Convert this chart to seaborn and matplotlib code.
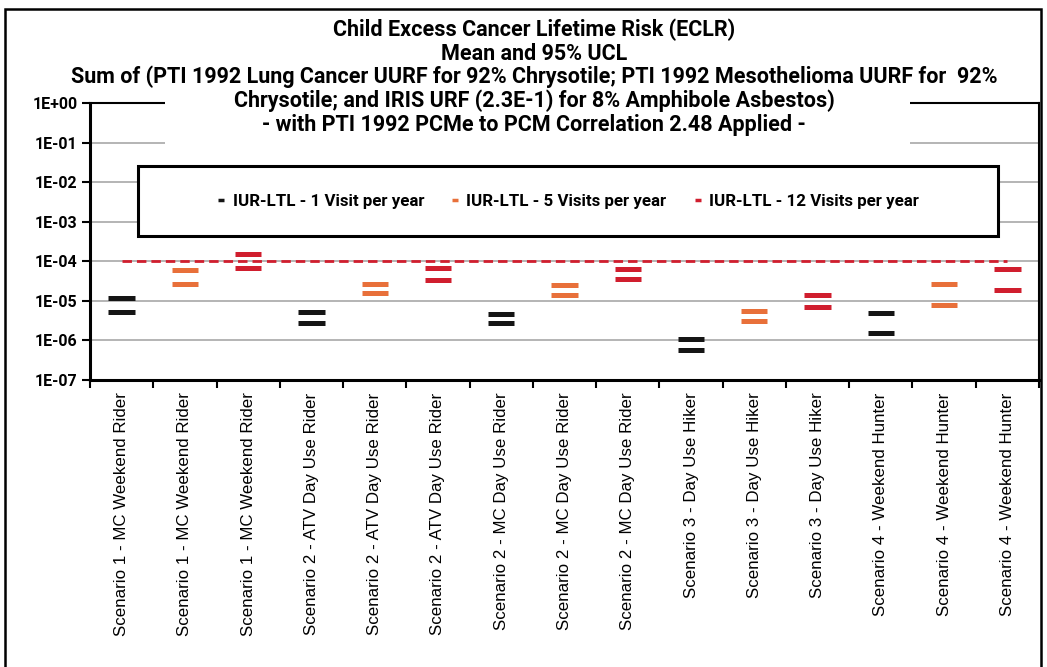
import matplotlib
matplotlib.use("Agg")
import matplotlib.pyplot as plt
from matplotlib.lines import Line2D
from matplotlib.patches import Rectangle
import numpy as np
import pandas as pd
import seaborn as sns

# ---------------- data ----------------
categories = [
    "Scenario 1 - MC Weekend Rider", "Scenario 1 - MC Weekend Rider", "Scenario 1 - MC Weekend Rider",
    "Scenario 2 - ATV Day Use Rider", "Scenario 2 - ATV Day Use Rider", "Scenario 2 - ATV Day Use Rider",
    "Scenario 2 - MC Day Use Rider", "Scenario 2 - MC Day Use Rider", "Scenario 2 - MC Day Use Rider",
    "Scenario 3 - Day Use Hiker", "Scenario 3 - Day Use Hiker", "Scenario 3 - Day Use Hiker",
    "Scenario 4 - Weekend Hunter", "Scenario 4 - Weekend Hunter", "Scenario 4 - Weekend Hunter",
]
series_names = [
    "IUR-LTL - 1 Visit per year",
    "IUR-LTL - 5 Visits per year",
    "IUR-LTL - 12 Visits per year",
]
category_series = [0, 1, 2] * 5
mean_values = [5.3e-6, 2.7e-5, 6.8e-5, 2.7e-6, 1.6e-5, 3.4e-5, 2.7e-6, 1.4e-5, 3.5e-5,
               5.8e-7, 3.1e-6, 6.9e-6, 1.55e-6, 7.8e-6, 1.9e-5]
ucl_values = [1.2e-5, 5.9e-5, 1.5e-4, 5.3e-6, 2.7e-5, 6.9e-5, 4.6e-6, 2.5e-5, 6.3e-5,
              1.06e-6, 5.6e-6, 1.4e-5, 4.8e-6, 2.6e-5, 6.3e-5]
target_risk = 1e-4
ytick_values = [1e0, 1e-1, 1e-2, 1e-3, 1e-4, 1e-5, 1e-6, 1e-7]
ytick_labels = ["1E+00", "1E-01", "1E-02", "1E-03", "1E-04", "1E-05", "1E-06", "1E-07"]
title_lines = [
    "Child Excess Cancer Lifetime Risk (ECLR)",
    "Mean and 95% UCL",
    "Sum of (PTI 1992 Lung Cancer UURF for 92% Chrysotile; PTI 1992 Mesothelioma UURF for  92%",
    "Chrysotile; and IRIS URF (2.3E-1) for 8% Amphibole Asbestos)",
    "- with PTI 1992 PCMe to PCM Correlation 2.48 Applied -",
]
colors = ["#151515", "#E8703A", "#D01E2E"]

# ---------------- styling ----------------
sns.set_theme(style="white")
BOLDF = ["Roboto", "DejaVu Sans"]
REG = ["Liberation Sans", "DejaVu Sans"]
plt.rcParams["font.family"] = REG
for k in ["text.color", "axes.labelcolor", "xtick.color", "ytick.color"]:
    plt.rcParams[k] = "black"

W, H = 1047, 667
fig = plt.figure(figsize=(W / 100, H / 100), dpi=100)
fig.patch.set_facecolor("white")

ax_l, ax_r, ax_t, ax_b = 90, 1039, 103, 380
ax = fig.add_axes([ax_l / W, 1 - ax_b / H, (ax_r - ax_l) / W, (ax_b - ax_t) / H])

positions = np.arange(len(categories))
rows = []
for i in positions:
    s = series_names[category_series[i]]
    rows.append({"pos": i, "value": mean_values[i], "series": s})
    rows.append({"pos": i, "value": ucl_values[i], "series": s})
df = pd.DataFrame(rows)

ax.set_yscale("log")
ax.set_ylim(1e-7, 1e0)
ax.set_xlim(-0.5, len(categories) - 0.5)

ax.set_yticks(ytick_values)
ax.yaxis.grid(True, color="#a8a8a8", linewidth=1.2, zorder=0)
ax.xaxis.grid(False)
ax.set_axisbelow(True)

# target line
thr = pd.DataFrame({"pos": positions, "value": [target_risk] * len(positions)})
sns.lineplot(data=thr, x="pos", y="value", ax=ax, color="#D01E2E", linewidth=2.0,
             linestyle=(0, (3.4, 1.8)), zorder=2)

palette = dict(zip(series_names, colors))
sns.scatterplot(data=df, x="pos", y="value", hue="series", palette=palette,
                marker="_", s=360, linewidth=3.6, ax=ax, legend=False, zorder=3)

ax.set_xlabel("")
ax.set_ylabel("")
ax.minorticks_off()
ax.set_xticks(positions)
ax.set_xticklabels(categories, rotation=90, fontsize=12.2, family=REG, va="top", ha="center")
ax.set_xticks(np.arange(len(categories) + 1) - 0.5, minor=True)
ax.tick_params(axis="x", which="major", length=0, pad=9)
ax.tick_params(axis="x", which="minor", length=6, width=1.5, color="black", direction="out", bottom=True)
ax.set_yticks(ytick_values)
ax.set_yticklabels(ytick_labels, fontsize=11.5, fontweight="bold", family=BOLDF)
ax.tick_params(axis="y", which="major", length=6, width=1.5, color="black", direction="out", pad=3, left=True)

for side in ["left", "bottom", "right", "top"]:
    ax.spines[side].set_visible(True)
    ax.spines[side].set_color("black")
ax.spines["left"].set_linewidth(2.2)
ax.spines["bottom"].set_linewidth(2.2)
ax.spines["right"].set_linewidth(1.5)
ax.spines["top"].set_linewidth(1.5)

# legend box
lx0, lx1, ly0, ly1 = 138, 998, 166, 236
def ax_x(px):
    return (px - ax_l) / (ax_r - ax_l)
def ax_y(py):
    return (ax_b - py) / (ax_b - ax_t)
box = Rectangle((ax_x(lx0), ax_y(ly1)), ax_x(lx1) - ax_x(lx0), ax_y(ly0) - ax_y(ly1),
                transform=ax.transAxes, facecolor="white", edgecolor="black", linewidth=2.2, zorder=4)
ax.add_patch(box)
handles = [Line2D([], [], color=c, marker="_", linestyle="none", markersize=5, markeredgewidth=2.5)
           for c in colors]
leg = ax.legend(handles, series_names, loc="center", ncol=3, frameon=False,
                bbox_to_anchor=(ax_x(lx0), ax_y(ly1), ax_x(lx1) - ax_x(lx0), ax_y(ly0) - ax_y(ly1)),
                bbox_transform=ax.transAxes, handlelength=0.5, handletextpad=0.4,
                columnspacing=1.6, prop={"family": BOLDF, "weight": "bold", "size": 12.2})
leg.set_zorder(6)

# title block (white backing covering the top of the plot frame)
fig.patches.append(Rectangle((165 / W, 1 - 152 / H), (910 - 165) / W, (152 - 92) / H,
                             transform=fig.transFigure, facecolor="white", edgecolor="none", zorder=1))
title_y = [30, 54, 77, 101, 125]
for line, y in zip(title_lines, title_y):
    fig.text(534 / W, 1 - y / H, line, ha="center", va="center", fontsize=15.5,
             fontweight="bold", family=BOLDF, zorder=5)

# outer chart border
fig.patches.append(Rectangle((5 / W, -0.01), (1041 - 5) / W, 1 - 9 / H + 0.01,
                             transform=fig.transFigure, facecolor="none", edgecolor="black",
                             linewidth=1.8, zorder=6))

fig.savefig("out.png", dpi=100, facecolor="white")
